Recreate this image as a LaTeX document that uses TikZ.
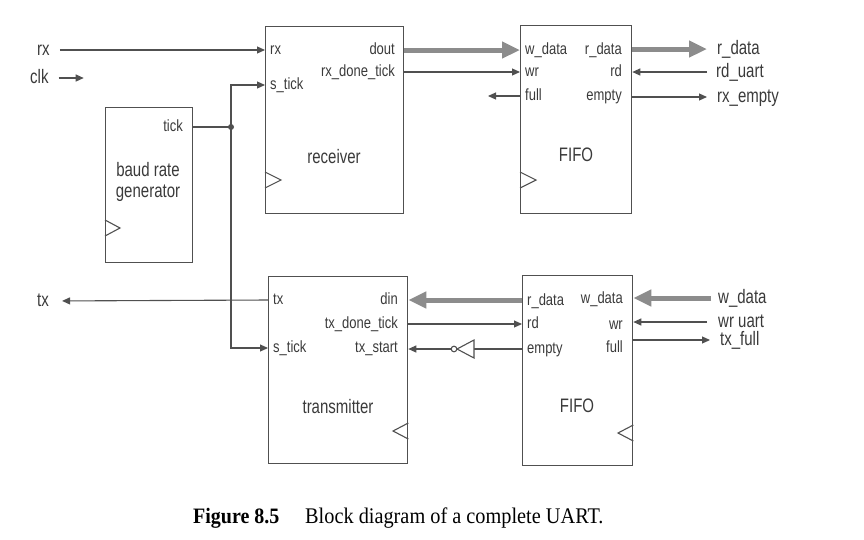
\documentclass[tikz,border=0pt]{standalone}
\usepackage{fontspec}
\usepackage{graphicx}
\setmainfont{Liberation Serif}
\setsansfont{Liberation Sans}
\usetikzlibrary{arrows.meta}
\definecolor{ln}{HTML}{505050}
\definecolor{bus}{HTML}{8C8C8C}
\definecolor{tx}{HTML}{3A3A3A}
\newcommand{\tallp}[1]{\scalebox{1}[1.25]{#1}}
\newcommand{\tallb}[1]{\scalebox{1}[1.3]{#1}}
\newcommand{\tallc}[1]{\scalebox{1}[1.1]{#1}}
\tikzset{
  box/.style={draw=ln, line width=1.3pt, inner sep=0pt, anchor=north west},
  port/.style={font=\fontsize{13}{13}\sffamily, text=tx, inner sep=0pt, text height=11.5pt, text depth=3pt},
  big/.style={font=\fontsize{15}{15}\sffamily, text=tx, inner sep=0pt, text height=13pt, text depth=3pt},
  title/.style={font=\fontsize{15}{17}\sffamily, text=tx, inner sep=0pt, align=center},
  wire/.style={draw=ln, line width=1.1pt},
  sig/.style={draw=ln, line width=1.1pt, -{Triangle[length=8pt,width=7pt]}},
  busa/.style={draw=bus, line width=5pt, -{Triangle[length=18pt,width=16pt]}},
  clock/.style={draw=ln, line width=1.1pt}
}
\begin{document}
\begin{tikzpicture}[x=1pt,y=-1pt]
\useasboundingbox (0,0) rectangle (864,539);

% blocks
\node[box, minimum width=138pt, minimum height=187pt] (rcv) at (265,26) {};
\node[box, minimum width=111pt, minimum height=188pt] (fifoA) at (520,25) {};
\node[box, minimum width=87pt, minimum height=155pt] (baud) at (105,107) {};
\node[box, minimum width=139pt, minimum height=187pt] (tmt) at (268,276) {};
\node[box, minimum width=110pt, minimum height=190pt] (fifoB) at (522,275) {};

% block titles
\node[title] (rcvt) at (334,157) {\tallb{receiver}};
\node[title] (fAt) at (576,155) {\tallb{FIFO}};
\node[title] (baudt1) at (148,170) {\tallb{baud rate}};
\node[title] (baudt2) at (148,193) {\tallb{generator}};
\node[title] (tmtt) at (338,407) {\tallb{transmitter}};
\node[title] (fBt) at (577,406) {\tallb{FIFO}};

% clock triangles
\draw[clock] (rcv.west |- 0,172) -- (281,180) -- (rcv.west |- 0,188);
\draw[clock] (fifoA.west |- 0,172) -- (536,180) -- (fifoA.west |- 0,188);
\draw[clock] (baud.west |- 0,220) -- (120,228) -- (baud.west |- 0,236);
\draw[clock] (tmt.east |- 0,423) -- (393,431) -- (tmt.east |- 0,439);
\draw[clock] (fifoB.east |- 0,425) -- (618,433) -- (fifoB.east |- 0,441);

% receiver ports
\node[port, anchor=west] (rcvrx) at (270,50) {\tallp{rx}};
\node[port, anchor=west] (rcvst) at (270,85) {\tallp{s\_tick}};
\node[port, anchor=east] (rcvdout) at (395,50) {\tallp{dout}};
\node[port, anchor=east] (rcvdone) at (395,72) {\tallp{rx\_done\_tick}};

% top FIFO ports
\node[port, anchor=west] (fAwd) at (525,50) {\tallp{w\_data}};
\node[port, anchor=west] (fAwr) at (525,72) {\tallp{wr}};
\node[port, anchor=west] (fAfull) at (525,96) {\tallp{full}};
\node[port, anchor=east] (fArd) at (622,50) {\tallp{r\_data}};
\node[port, anchor=east] (fArdp) at (622,72) {\tallp{rd}};
\node[port, anchor=east] (fAem) at (622,96) {\tallp{empty}};

% baud port
\node[port, anchor=east] (tick) at (183,127) {\tallp{tick}};

% transmitter ports
\node[port, anchor=west] (tmttx) at (273,300) {\tallp{tx}};
\node[port, anchor=west] (tmtst) at (273,348) {\tallp{s\_tick}};
\node[port, anchor=east] (tmtdin) at (398,300) {\tallp{din}};
\node[port, anchor=east] (tmtdone) at (398,324) {\tallp{tx\_done\_tick}};
\node[port, anchor=east] (tmtstart) at (398,348) {\tallp{tx\_start}};

% bottom FIFO ports
\node[port, anchor=west] (fBrd) at (527,301) {\tallp{r\_data}};
\node[port, anchor=west] (fBrdp) at (527,324) {\tallp{rd}};
\node[port, anchor=west] (fBem) at (527,349) {\tallp{empty}};
\node[port, anchor=east] (fBwd) at (623,299) {\tallp{w\_data}};
\node[port, anchor=east] (fBwr) at (623,325) {\tallp{wr}};
\node[port, anchor=east] (fBfull) at (623,348) {\tallp{full}};

% external labels
\node[big, anchor=west] (rxin) at (37,50) {\tallb{rx}};
\node[big, anchor=west] (clk) at (30,78) {\tallb{clk}};
\node[big, anchor=west] (txout) at (37,301) {\tallb{tx}};
\node[big, anchor=west] (rdout) at (717,49) {\tallb{r\_data}};
\node[big, anchor=west] (rduart) at (716,72) {\tallb{rd\_uart}};
\node[big, anchor=west] (rxempty) at (717,97) {\tallb{rx\_empty}};
\node[big, anchor=west] (wdin) at (718,298) {\tallb{w\_data}};
\node[big, anchor=west] (wruart) at (718,322) {\tallb{wr uart}};
\node[big, anchor=west] (txfull) at (720,340) {\tallb{tx\_full}};

% connectors: inputs / outputs
\draw[sig, shorten <=10pt] (rxin.east) -- (rxin.east -| rcv.west);
\draw[sig, shorten <=10pt] (clk.east) -- ++(35,0);

% tick distribution
\coordinate (j) at (231,127);
\draw[wire] (baud.east |- tick) -- (j);
\fill[ln] (j) circle (3pt);
\draw[sig] (j) |- (rcv.west |- rcvst);
\draw[sig] (j) |- (tmt.west |- tmtst);

% receiver -> FIFO
\draw[busa] (rcv.east |- rcvdout) -- (fifoA.west |- rcvdout);
\draw[sig] (rcv.east |- rcvdone) -- (fifoA.west |- rcvdone);
\draw[sig] (fifoA.west |- fAfull) -- ++(-32,0);

% top FIFO outputs
\draw[busa, shorten >=10pt] (fifoA.east |- rdout) -- (rdout.west);
\draw[sig, shorten <=9pt] (rduart.west) -- (fifoA.east |- rduart);
\draw[sig, shorten >=10pt] (fifoA.east |- rxempty) -- (rxempty.west);

% transmitter side
\draw[sig, shorten >=13pt] (tmt.west |- tmttx) -- (txout.east);
\draw[busa] (fifoB.west |- tmtdin) -- (tmt.east |- tmtdin);
\draw[sig] (tmt.east |- tmtdone) -- (fifoB.west |- tmtdone);

% inverter
\coordinate (invin) at (474,349);
\coordinate (invtip) at (457,349);
\coordinate (invout) at (451,349);
\draw[wire] (fifoB.west |- invin) -- (invin);
\draw[wire, fill=white] (474,340) -- (474,358) -- (invtip) -- cycle;
\draw[wire, fill=white] (454,349) circle (2.8pt);
\draw[sig] (invout) -- (tmt.east |- invout);

% bottom FIFO right side
\draw[busa, shorten <=7pt] (wdin.west) -- (fifoB.east |- wdin);
\draw[sig, shorten <=11pt] (wruart.west) -- (fifoB.east |- wruart);
\draw[sig, shorten >=10pt] (fifoB.east |- txfull) -- (txfull.west);

% caption
\node[anchor=base west, inner sep=0pt, font=\fontsize{20}{20}\selectfont\bfseries] (fig) at (193,523) {\tallc{Figure 8.5}};
\node[anchor=base west, inner sep=0pt, font=\fontsize{20.3}{20}\selectfont] (cap) at (305,523) {\tallc{Block diagram of a complete UART.}};
\end{tikzpicture}
\end{document}
